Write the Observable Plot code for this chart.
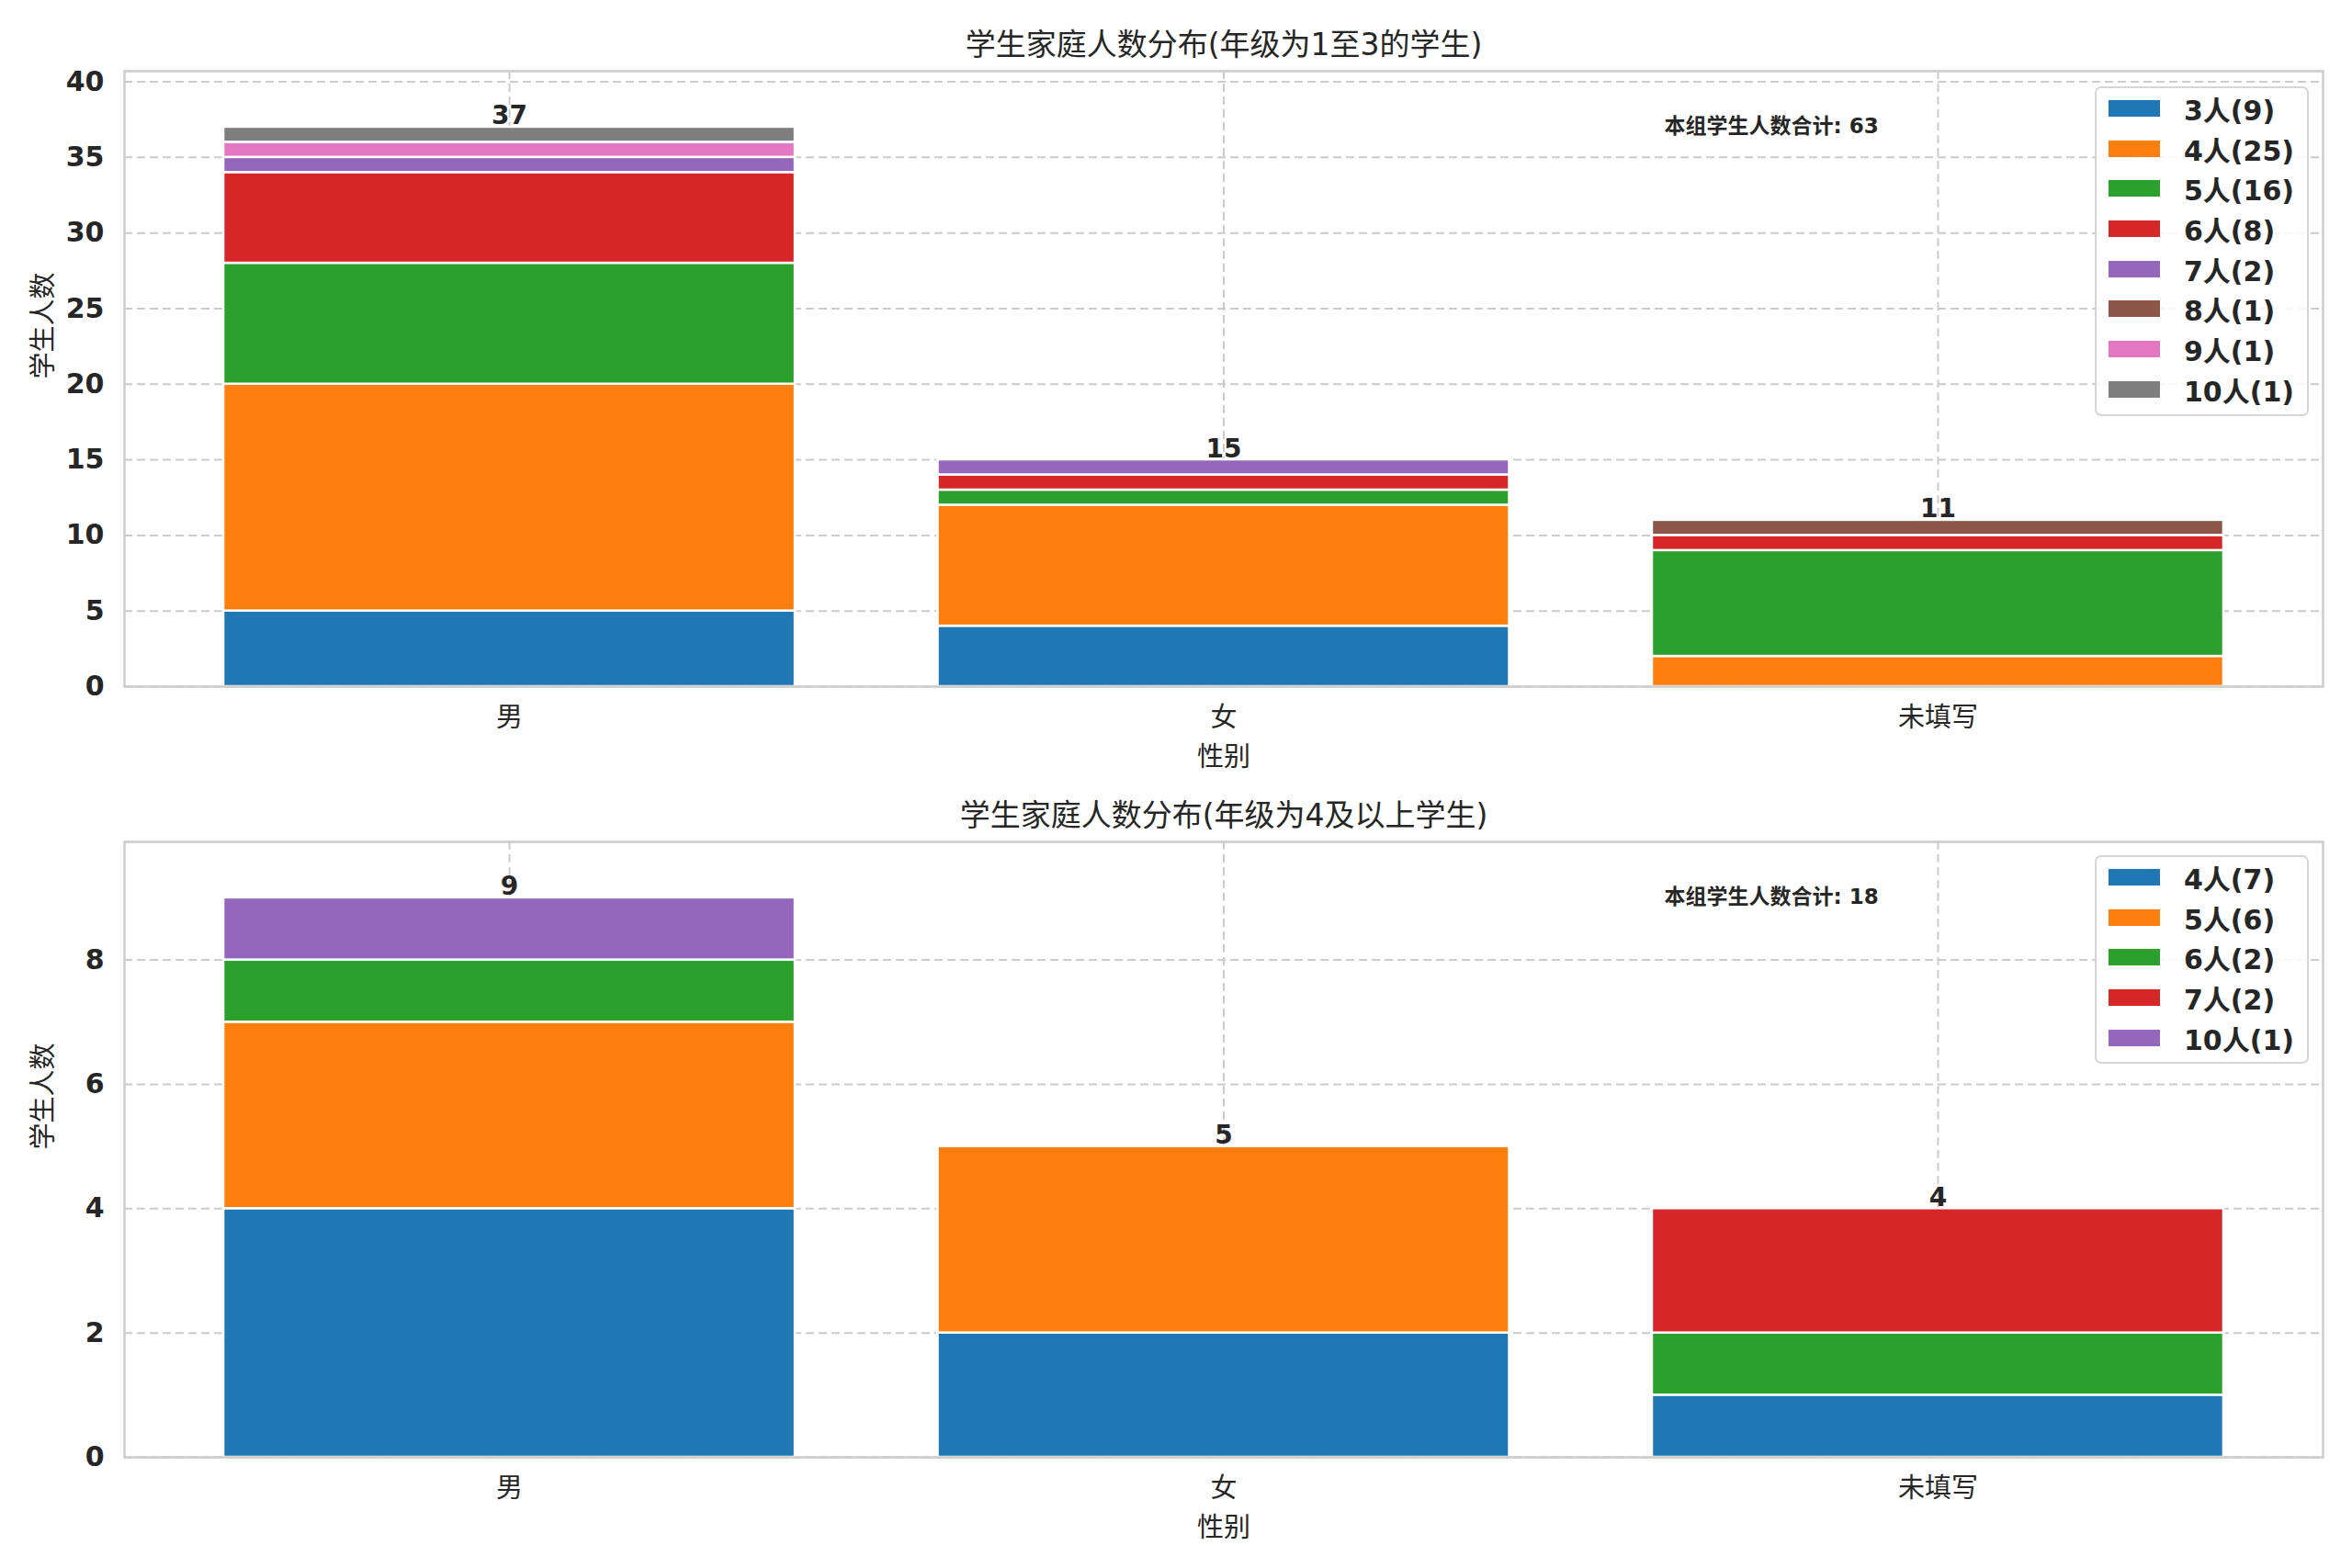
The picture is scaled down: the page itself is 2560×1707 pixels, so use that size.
<!DOCTYPE html>
<html>
<head>
<meta charset="utf-8">
<script src="https://cdn.jsdelivr.net/npm/d3@7"></script>
<script src="https://cdn.jsdelivr.net/npm/@observablehq/plot@0.6"></script>
<style>
  html, body { margin: 0; padding: 0; background: #ffffff; }
  #root { width: 2560px; }
  .panel { position: relative; width: 2560px; }
  .panel svg { display: block; }
  .lgbox {
    position: absolute; right: 47px;
    border: 2px solid #d6d6d6; border-radius: 7px;
    background: rgba(255,255,255,0.85);
    padding: 0 14px 5px 13px;
  }
  .lgbox .lg-swatches {
    font-family: "DejaVu Sans", "Noto Sans CJK SC", sans-serif !important;
    font-size: 30px !important; font-weight: bold !important;
    color: #262626 !important; min-height: 0 !important; margin: 0 !important;
    width: auto !important; columns: auto !important;
  }
  .lgbox .lg-swatch {
    height: 43.7px !important; display: flex !important; align-items: center !important;
    padding: 0 !important; margin: 0 !important;
  }
  .lgbox .lg-swatch svg { margin-right: 26px !important; }
</style>
</head>
<body>
<div id="root"></div>
<script>
// ---------- data ----------
const categories = ["男", "女", "未填写"];

const topSeries  = ["3人", "4人", "5人", "6人", "7人", "8人", "9人", "10人"];
const topMale    = [5, 15, 8, 6, 1, 0, 1, 1];
const topFemale  = [4, 8, 1, 1, 1, 0, 0, 0];
const topUnknown = [0, 2, 7, 1, 0, 1, 0, 0];
const topYTicks  = [0, 5, 10, 15, 20, 25, 30, 35, 40];

const bottomSeries  = ["4人", "5人", "6人", "7人", "10人"];
const bottomMale    = [4, 3, 1, 0, 1];
const bottomFemale  = [2, 3, 0, 0, 0];
const bottomUnknown = [1, 0, 1, 2, 0];
const bottomYTicks  = [0, 2, 4, 6, 8];

const tab10 = ["#1f77b4", "#ff7f0e", "#2ca02c", "#d62728", "#9467bd", "#8c564b", "#e377c2", "#7f7f7f", "#bcbd22", "#17becf"];

const topTitle = "学生家庭人数分布(年级为1至3的学生)";
const bottomTitle = "学生家庭人数分布(年级为4及以上学生)";
const xLabel = "性别";
const yLabel = "学生人数";
const annPrefix = "本组学生人数合计";

// ---------- drawing ----------
const TEXT = "#262626";
const GRID = "#cccccc";

function panel({series, cols, yTicks, title, height, marginTop, marginBottom, legendTop}) {
  const rows = [];
  series.forEach((s, i) => categories.forEach((c, j) => {
    const v = cols[j][i];
    if (v > 0) rows.push({cat: c, series: s, value: v});
  }));
  const totals = categories.map((c, j) => ({cat: c, total: d3.sum(cols[j])}));
  const grand = d3.sum(totals, d => d.total);
  const maxTotal = d3.max(totals, d => d.total);
  const colors = tab10.slice(0, series.length);
  const legendLabels = series.map((s, i) => `${s}(${d3.sum(cols, col => col[i])})`);

  const svg = Plot.plot({
    width: 2560, height, marginTop, marginBottom, marginLeft: 135, marginRight: 32,
    style: {fontFamily: '"DejaVu Sans", "Noto Sans CJK SC", sans-serif', color: TEXT, background: "#ffffff", overflow: "visible"},
    x: {type: "band", domain: categories, paddingInner: 0.2, paddingOuter: 0.139, round: false, label: null},
    y: {domain: [0, maxTotal * 1.1], label: null},
    color: {domain: series, range: colors},
    marks: [
      Plot.gridY(yTicks, {stroke: GRID, strokeOpacity: 1, strokeWidth: 2, strokeDasharray: "9,5"}),
      Plot.gridX({stroke: GRID, strokeOpacity: 1, strokeWidth: 2, strokeDasharray: "9,5"}),
      Plot.barY(rows, Plot.stackY({x: "cat", y: "value", fill: "series", stroke: "#ffffff", strokeWidth: 2.5})),
      Plot.text(totals, {x: "cat", y: "total", text: d => String(d.total), lineAnchor: "bottom", dy: -3,
        fontSize: 28, fontWeight: "bold", fill: TEXT, fontFamily: '"DejaVu Sans", sans-serif'}),
      Plot.text([`${annPrefix}: ${grand}`], {frameAnchor: "top-left", dx: 1676, dy: 60, textAnchor: "start",
        lineAnchor: "middle", fontSize: 23, fontWeight: "bold", fill: TEXT}),
      Plot.axisY({ticks: yTicks, tickSize: 0, tickPadding: 22, fontSize: 30, fontWeight: "bold", label: null,
        fill: TEXT, fontFamily: '"DejaVu Sans", sans-serif'}),
      Plot.axisX({tickSize: 0, tickPadding: 23, fontSize: 29, label: null, fill: TEXT,
        fontFamily: '"Noto Sans CJK SC", sans-serif'}),
      Plot.text([title], {frameAnchor: "top", dy: -28, lineAnchor: "middle", fontSize: 33, fill: TEXT}),
      Plot.text([xLabel], {frameAnchor: "bottom", dy: 77, lineAnchor: "middle", fontSize: 29, fill: TEXT,
        fontFamily: '"Noto Sans CJK SC", sans-serif'}),
      Plot.text([yLabel], {frameAnchor: "left", dx: -88, rotate: -90, lineAnchor: "middle", fontSize: 29, fill: TEXT,
        fontFamily: '"Noto Sans CJK SC", sans-serif'}),
      Plot.frame({stroke: GRID, strokeWidth: 2.5})
    ]
  });

  const legend = Plot.legend({
    legend: "swatches",
    color: {domain: legendLabels, range: colors},
    columns: 1, swatchWidth: 56, swatchHeight: 18, className: "lg"
  });

  const wrap = document.createElement("div");
  wrap.className = "panel";
  wrap.style.height = height + "px";
  wrap.appendChild(svg);
  const box = document.createElement("div");
  box.className = "lgbox";
  box.style.top = legendTop + "px";
  box.appendChild(legend);
  wrap.appendChild(box);
  return wrap;
}

const root = document.getElementById("root");
root.appendChild(panel({
  series: topSeries, cols: [topMale, topFemale, topUnknown], yTicks: topYTicks, title: topTitle,
  height: 840, marginTop: 77, marginBottom: 93, legendTop: 94
}));
root.appendChild(panel({
  series: bottomSeries, cols: [bottomMale, bottomFemale, bottomUnknown], yTicks: bottomYTicks, title: bottomTitle,
  height: 867, marginTop: 76, marginBottom: 121, legendTop: 91
}));
</script>
</body>
</html>
